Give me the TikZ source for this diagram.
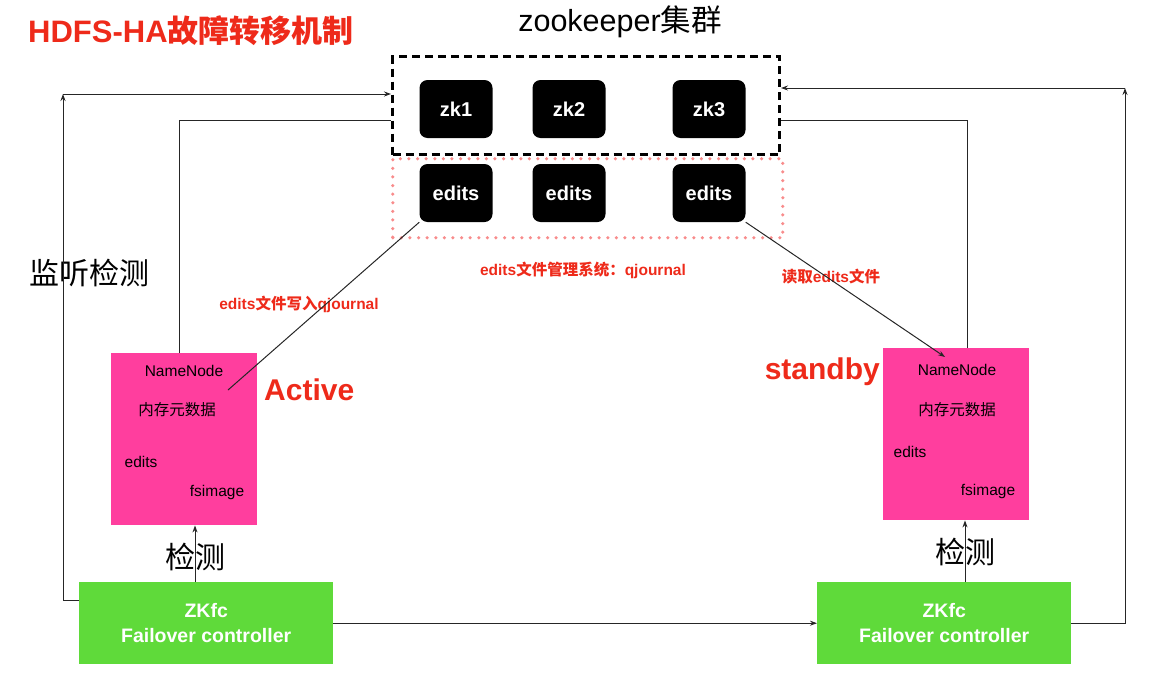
\documentclass[tikz,border=0pt]{standalone}
\usepackage{fontspec}
\setmainfont{Liberation Sans}
\newfontfamily\cjk{Noto Sans CJK SC}
\usetikzlibrary{arrows.meta}
\definecolor{tred}{RGB}{238,42,26}
\definecolor{npink}{RGB}{255,62,158}
\definecolor{zgreen}{RGB}{95,218,58}
\definecolor{dotpink}{RGB}{248,140,140}
\newcommand\cj[1]{{\cjk #1}}
\begin{document}
\begin{tikzpicture}[x=1pt,y=-1pt,
  blackbox/.style={fill=black, rounded corners=8pt, minimum width=73pt, minimum height=58pt, inner sep=0pt, text=white, font=\fontsize{20}{24}\selectfont\bfseries},
  nnbox/.style={fill=npink, minimum width=146pt, minimum height=172pt, inner sep=0pt, anchor=north west},
  zkfcbox/.style={fill=zgreen, minimum width=254pt, minimum height=82pt, inner sep=0pt, anchor=north west, text=white, align=center, font=\fontsize{19.5}{25}\selectfont\bfseries},
  nntext/.style={inner sep=0pt, font=\fontsize{15.5}{18}\selectfont},
  redlbl/.style={inner sep=0pt, text=tred, font=\fontsize{15.5}{18}\selectfont\bfseries},
  biglbl/.style={inner sep=0pt, text=tred, font=\fontsize{30}{34}\selectfont\bfseries},
  cjlbl/.style={inner sep=0pt, font={\cjk\fontsize{30}{34}\selectfont}},
  conn/.style={draw=black!85, line width=1pt},
  arr/.style={conn, -{Stealth[length=7pt,width=5pt]}}
]
\useasboundingbox (0,0) rectangle (1158,688);

% title
\node[anchor=west, inner sep=0pt, text=tred, font=\fontsize{31}{35}\selectfont\bfseries] (title) at (28,31) {HDFS-HA\cj{故障转移机制}};
\node[inner sep=0pt, font=\fontsize{30.5}{34}\selectfont] (zktitle) at (620,22) {zookeeper\cj{集群}};

% zookeeper cluster
\node[draw=black, line width=3pt, dash pattern=on 8pt off 5pt, minimum width=387pt, minimum height=98pt, inner sep=0pt, anchor=north west] (zkc) at (391,55) {};
\node[draw=dotpink, line width=3.5pt, line cap=round, dash pattern=on 0pt off 8.6pt, minimum width=390pt, minimum height=79pt, inner sep=0pt, anchor=north west] (qj) at (391,157) {};

\node[blackbox] (zk1) at (456,109) {zk1};
\node[blackbox] (zk2) at (569,109) {zk2};
\node[blackbox] (zk3) at (709,109) {zk3};
\node[blackbox] (ed1) at (456,193) {edits};
\node[blackbox] (ed2) at (569,193) {edits};
\node[blackbox] (ed3) at (709,193) {edits};

% red labels
\node[redlbl] (qjlbl) at (583,270) {edits\cj{文件管理系统：}qjournal};
\node[redlbl] (wlbl) at (299,304) {edits\cj{文件写入}qjournal};
\node[redlbl] (rlbl) at (831,277) {\cj{读取}edits\cj{文件}};

% NameNodes
\node[nnbox] (nnA) at (111,353) {};
\node[nntext] (nnAt1) at (184,371) {NameNode};
\node[nntext] (nnAt2) at (177,410) {\cj{内存元数据}};
\node[nntext] (nnAt3) at (141,462) {edits};
\node[nntext] (nnAt4) at (217,492) {fsimage};
\node[biglbl, anchor=west] (act) at (264,390) {Active};

\node[nnbox] (nnB) at (883,348) {};
\node[nntext] (nnBt1) at (957,370) {NameNode};
\node[nntext] (nnBt2) at (957,410) {\cj{内存元数据}};
\node[nntext] (nnBt3) at (910,452) {edits};
\node[nntext] (nnBt4) at (988,491) {fsimage};
\node[biglbl, anchor=east] (stb) at (880,372) {standby};

% ZKfc
\node[zkfcbox] (zfA) at (79,582) {ZKfc\\Failover controller};
\node[zkfcbox] (zfB) at (817,582) {ZKfc\\Failover controller};

\node[cjlbl] (detA) at (195,557) {检测};
\node[cjlbl] (detB) at (965,552) {检测};
\node[cjlbl] (mon) at (89,273) {监听检测};

% connectors
\coordinate (lc) at (63,94);
\draw[arr] ([yshift=-18pt]zfA.north west) -| (lc);
\draw[arr] (lc) -- (lc -| zkc.west);
\coordinate (lc2) at (179,120);
\draw[conn] (nnA.north west -| lc2) -- (lc2) -- (lc2 -| zkc.west);

\coordinate (rc) at (1125,88);
\draw[arr] (zfB.east) -| (rc);
\draw[arr] (rc) -- (rc -| zkc.east);
\coordinate (rc2) at (967,120);
\draw[conn] (nnB.north west -| rc2) -- (rc2) -- (rc2 -| zkc.east);

\coordinate (nnAin) at (228,390);
\draw[conn] (nnAin) -- (ed1.south west);
\coordinate (nnBin) at (945,357);
\draw[arr] (ed3.south east) -- (nnBin);

\draw[arr] (zfA.east) -- (zfB.west);

\coordinate (dA) at (195,582);
\draw[arr] (dA) -- (dA |- nnA.south);
\coordinate (dB) at (965,582);
\draw[arr] (dB) -- (dB |- nnB.south);
\end{tikzpicture}
\end{document}
